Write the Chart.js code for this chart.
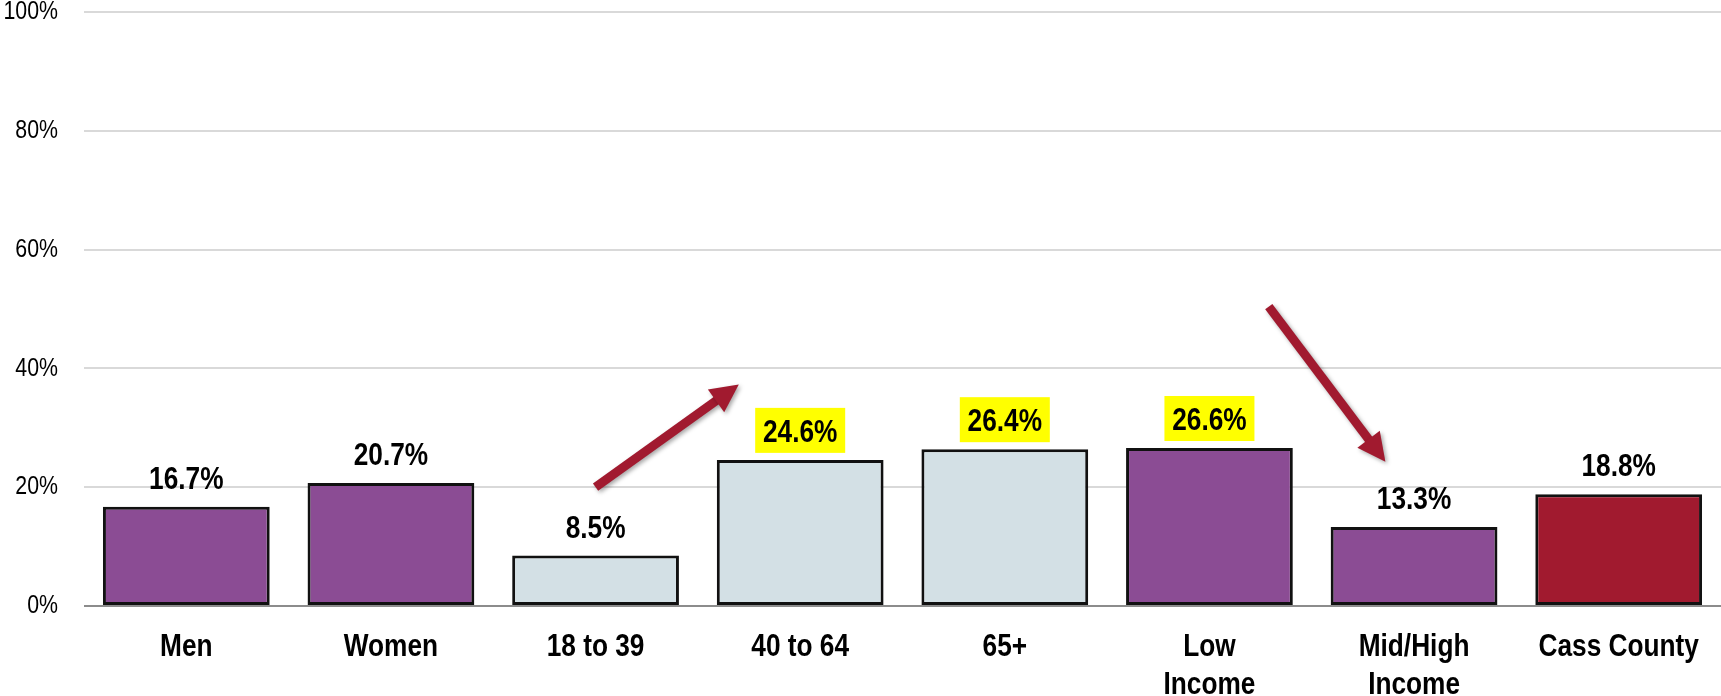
<!DOCTYPE html>
<html>
<head>
<meta charset="utf-8">
<script src="https://cdn.jsdelivr.net/npm/chart.js@4.4.1/dist/chart.umd.min.js"></script>
<style>
  html, body { margin: 0; padding: 0; background: #fff; }
  #wrap { width: 1721px; height: 696px; }
</style>
</head>
<body>
<div id="wrap"><canvas id="myChart"></canvas></div>
<script>
const categories = ["Men", "Women", "18 to 39", "40 to 64", "65+", ["Low", "Income"], ["Mid/High", "Income"], "Cass County"];
const values = [16.7, 20.7, 8.5, 24.6, 26.4, 26.6, 13.3, 18.8];
const highlighted = [3, 4, 5];
const yTicks = [0, 20, 40, 60, 80, 100];
// arrows given in chart units: [from category, from %, to category, to %]
const arrows = [
  [2.0, 20.0, 2.7, 37.3],
  [5.29, 50.4, 5.86, 24.3],
];

const FONT = "'Liberation Sans', Arial, sans-serif";
const NARROW = 0.82; // no narrow face installed, so squeeze the text
const PURPLE = "#8b4c94";
const LIGHT = "#d3e0e5";
const RED = "#a11a2f";
const barColors = [PURPLE, PURPLE, LIGHT, LIGHT, LIGHT, PURPLE, PURPLE, RED];

const narrowText = {
  id: "narrowText",
  beforeDraw(chart) {
    const ctx = chart.ctx;
    const orig = CanvasRenderingContext2D.prototype.fillText;
    ctx.fillText = function (text, x, y) {
      this.save();
      this.translate(x, y);
      this.scale(NARROW, 1);
      orig.call(this, text, 0, 0);
      this.restore();
    };
  },
  afterDraw(chart) {
    delete chart.ctx.fillText;
  },
};

const barLabels = {
  id: "barLabels",
  afterDatasetsDraw(chart) {
    const ctx = chart.ctx;
    const meta = chart.getDatasetMeta(0);
    ctx.save();
    ctx.font = "bold 32px " + FONT;
    ctx.textAlign = "center";
    ctx.textBaseline = "alphabetic";
    meta.data.forEach((bar, i) => {
      const base = bar.y - 18;
      if (highlighted.includes(i)) {
        ctx.fillStyle = "#ffff00";
        ctx.fillRect(bar.x - 45, base - 34, 90, 45);
      }
      ctx.fillStyle = "#000";
      ctx.fillText(values[i].toFixed(1) + "%", bar.x, base);
    });
    ctx.restore();
  },
};

const arrowPlugin = {
  id: "arrows",
  afterDatasetsDraw(chart) {
    const { ctx, scales } = chart;
    ctx.save();
    ctx.shadowColor = "rgba(0,0,0,0.35)";
    ctx.shadowBlur = 4;
    ctx.shadowOffsetX = 2;
    ctx.shadowOffsetY = 2;
    ctx.fillStyle = RED;
    ctx.strokeStyle = RED;
    arrows.forEach(([x0, y0, x1, y1]) => {
      const ax = scales.x.getPixelForValue(x0), ay = scales.y.getPixelForValue(y0);
      const bx = scales.x.getPixelForValue(x1), by = scales.y.getPixelForValue(y1);
      const ang = Math.atan2(by - ay, bx - ax);
      const head = 28, half = 14;
      const hx = bx - head * Math.cos(ang), hy = by - head * Math.sin(ang);
      ctx.lineWidth = 9;
      ctx.beginPath();
      ctx.moveTo(ax, ay);
      ctx.lineTo(hx + 2 * Math.cos(ang), hy + 2 * Math.sin(ang));
      ctx.stroke();
      ctx.beginPath();
      ctx.moveTo(bx, by);
      ctx.lineTo(hx + half * Math.sin(ang), hy - half * Math.cos(ang));
      ctx.lineTo(hx - half * Math.sin(ang), hy + half * Math.cos(ang));
      ctx.closePath();
      ctx.fill();
    });
    ctx.restore();
  },
};

new Chart(document.getElementById("myChart"), {
  type: "bar",
  data: {
    labels: categories,
    datasets: [{
      data: values,
      backgroundColor: barColors,
      borderColor: "#111",
      borderWidth: 3,
      borderSkipped: false,
      categoryPercentage: 1,
      barPercentage: 0.815,
    }],
  },
  options: {
    responsive: true,
    maintainAspectRatio: false,
    animation: false,
    layout: { padding: 0 },
    plugins: { legend: { display: false }, tooltip: { enabled: false } },
    scales: {
      x: {
        grid: { display: false },
        border: { display: false },
        ticks: {
          color: "#000",
          padding: 14,
          maxRotation: 0,
          autoSkip: false,
          font: { family: FONT, size: 32, weight: "bold", lineHeight: 1.2 },
        },
        afterFit: (s) => { s.height = 90; s.paddingLeft = 0; s.paddingRight = 0; },
      },
      y: {
        min: 0,
        max: 100,
        border: { display: false },
        grid: {
          drawTicks: false,
          lineWidth: 2,
          color: (c) => (c.tick && c.tick.value === 0 ? "#8c8c8c" : "#d9d9d9"),
        },
        afterBuildTicks: (s) => { s.ticks = yTicks.map((v) => ({ value: v })); },
        ticks: {
          color: "#000",
          padding: 26,
          callback: (v) => v + "%",
          font: { family: FONT, size: 26, lineHeight: 1 },
        },
        afterFit: (s) => { s.width = 84; s.paddingTop = 12; s.paddingBottom = 0; },
      },
    },
  },
  plugins: [narrowText, barLabels, arrowPlugin],
});
</script>
</body>
</html>
